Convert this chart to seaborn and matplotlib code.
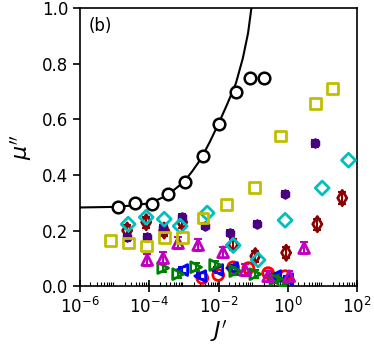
import numpy as np
import matplotlib
matplotlib.use("Agg")
import matplotlib.pyplot as plt
import matplotlib.ticker as mticker
import seaborn as sns

# curve (log10 J', mu'')
curve_logj = [-6.0, -5.0, -4.5, -4.0, -3.5, -3.0, -2.75, -2.5, -2.25, -2.0, -1.75, -1.5, -1.3, -1.15, -1.0]
curve_mu = [0.283, 0.285, 0.29, 0.298, 0.325, 0.375, 0.415, 0.46, 0.52, 0.585, 0.655, 0.73, 0.82, 0.91, 1.05]

black_logj = [-4.90, -4.41, -3.92, -3.46, -2.97, -2.45, -1.98, -1.49, -1.09, -0.68]
black_mu = [0.284, 0.299, 0.295, 0.331, 0.374, 0.468, 0.583, 0.698, 0.748, 0.748]

olive_logj = [-5.13, -4.61, -4.09, -3.57, -3.05, -2.45, -1.78, -0.97, -0.22, 0.79, 1.28]
olive_mu = [0.165, 0.155, 0.144, 0.176, 0.176, 0.245, 0.295, 0.356, 0.54, 0.658, 0.712]

cyan_logj = [-4.61, -4.09, -3.57, -3.11, -2.33, -1.58, -0.86, -0.08, 0.99, 1.75]
cyan_mu = [0.223, 0.248, 0.241, 0.216, 0.263, 0.147, 0.094, 0.237, 0.353, 0.453]

purple_logj = [-4.64, -4.06, -3.60, -3.05, -2.39, -1.66, -0.88, -0.08, 0.79]
purple_mu = [0.176, 0.176, 0.209, 0.248, 0.216, 0.191, 0.223, 0.331, 0.514]

darkred_logj = [-4.64, -4.09, -3.57, -3.05, -1.58, -0.94, -0.05, 0.85, 1.57]
darkred_mu = [0.20, 0.23, 0.20, 0.23, 0.15, 0.108, 0.120, 0.223, 0.317]

magenta_logj = [-4.06, -3.60, -3.17, -2.59, -1.87, -1.23, -0.57, 0.04, 0.47]
magenta_mu = [0.094, 0.101, 0.155, 0.148, 0.122, 0.058, 0.036, 0.036, 0.137]

green_logj = [-3.60, -3.17, -2.65, -2.10, -1.52, -0.94, -0.36, -0.13]
green_mu = [0.065, 0.043, 0.068, 0.076, 0.054, 0.043, 0.025, 0.014]

blue_logj = [-3.05, -2.53, -2.04, -1.61, -0.36, -0.02]
blue_mu = [0.058, 0.036, 0.058, 0.065, 0.036, 0.025]

red_logj = [-2.47, -2.01, -1.58, -1.14, -0.57, -0.08]
red_mu = [0.029, 0.040, 0.068, 0.065, 0.047, 0.036]

sns.set_style("ticks")
plt.rcParams['font.family'] = ['DejaVu Sans']
plt.rcParams['text.color'] = 'black'
plt.rcParams['axes.labelcolor'] = 'black'
plt.rcParams['xtick.color'] = 'black'
plt.rcParams['ytick.color'] = 'black'

fig = plt.figure(figsize=(3.74, 3.55), dpi=100)
ax = fig.add_axes([0.214, 0.194, 0.741, 0.783])


def j(vals):
    return 10.0 ** np.array(vals)


sns.lineplot(x=j(curve_logj), y=curve_mu, color='black', lw=1.5, ax=ax, zorder=5)

series = [
    (red_logj, red_mu, 'red', 'o', 0.0),
    (blue_logj, blue_mu, 'blue', '<', 0.012),
    (green_logj, green_mu, 'green', '>', 0.015),
    (magenta_logj, magenta_mu, 'm', '^', 0.02),
    (darkred_logj, darkred_mu, 'darkred', 'd', 0.02),
    (purple_logj, purple_mu, 'indigo', 'h', 0.012),
    (cyan_logj, cyan_mu, 'c', 'D', 0.0),
    (olive_logj, olive_mu, 'y', 's', 0.0),
]

for lj, mu, col, mk, err in series:
    x = j(lj)
    if err > 0:
        ax.errorbar(x, mu, yerr=err, fmt='none', ecolor=col, elinewidth=1.5,
                    capsize=3, capthick=1.5, zorder=3)
    if mk == 'h':
        ax.errorbar(x, mu, xerr=x * 0.25, fmt='none', ecolor=col, elinewidth=1.5,
                    capsize=0, zorder=3)
        sns.scatterplot(x=x, y=mu, marker=mk, s=45, color=col, edgecolor=col,
                        linewidth=1, ax=ax, zorder=4)
    else:
        sns.scatterplot(x=x, y=mu, marker=mk, s=60 if mk != 'D' else 50,
                        facecolors='none', edgecolor=col, linewidth=2, ax=ax, zorder=4)

sns.scatterplot(x=j(black_logj), y=black_mu, marker='o', s=70, facecolor='white',
                edgecolor='black', linewidth=1.8, ax=ax, zorder=6)

ax.set_xscale('log')
ax.set_xlim(1e-6, 1e2)
ax.set_ylim(0, 1.0)
ax.xaxis.set_major_locator(mticker.FixedLocator([1e-6, 1e-4, 1e-2, 1e0, 1e2]))
ax.xaxis.set_minor_locator(mticker.LogLocator(base=10, subs=np.arange(2, 10), numticks=20))
ax.xaxis.set_minor_formatter(mticker.NullFormatter())
ax.set_yticks([0.0, 0.2, 0.4, 0.6, 0.8, 1.0])
ax.set_yticklabels(['0.0', '0.2', '0.4', '0.6', '0.8', '1.0'])

ax.tick_params(axis='x', which='major', direction='inout', length=8, width=1.2, labelsize=12, pad=4)
ax.tick_params(axis='x', which='minor', direction='in', length=3, width=0.8)
ax.tick_params(axis='y', which='major', direction='out', length=5, width=1.2, labelsize=12)
for sp in ax.spines.values():
    sp.set_linewidth(1.2)
    sp.set_color('black')

ax.set_xlabel(r"$J'$", fontsize=16, labelpad=1)
ax.set_ylabel(r"$\mu''$", fontsize=16, labelpad=6)
ax.text(0.03, 0.97, '(b)', transform=ax.transAxes, fontsize=12, va='top', ha='left')

fig.savefig('out.png', dpi=100)
